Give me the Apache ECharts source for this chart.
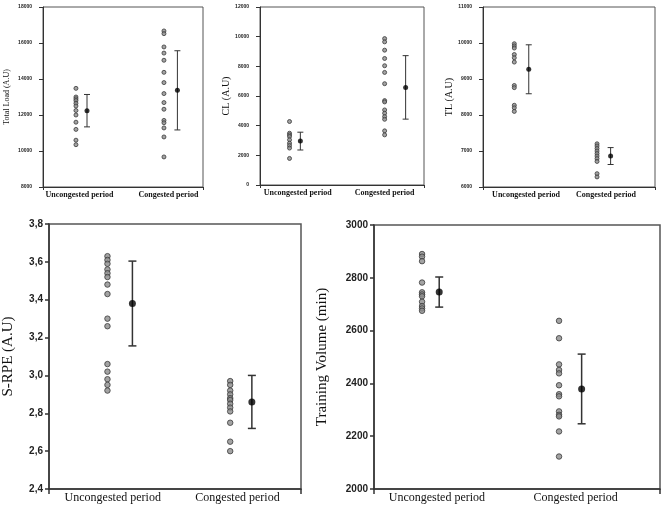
<!DOCTYPE html>
<html>
<head>
<meta charset="utf-8">
<script src="https://cdn.jsdelivr.net/npm/echarts@6/dist/echarts.min.js"></script>
<style>
  html, body { margin: 0; background: #fff; }
  #chart { width: 669px; height: 522px; }
</style>
</head>
<body>
<div id="chart"></div>
<script>
var periods = ['Uncongested period', 'Congested period']

// Total Load (A.U)
var totalLoadUncong = [13480, 13000, 12900, 12800, 12650, 12500, 12250, 12000, 11600, 11200, 10600, 10350]
var totalLoadCong = [16670, 16520, 15780, 15440, 15040, 14370, 13800, 13190, 12690, 12320, 11700, 11570, 11280, 10780, 9670]
var totalLoadMean = [12240, 13370]
var totalLoadSd = [900, 2200]

// CL (A.U)
var clUncong = [4280, 3490, 3380, 3270, 3050, 2820, 2660, 2490, 1790]
var clCong = [9870, 9650, 9090, 8530, 8040, 7590, 6830, 5690, 5600, 5060, 4840, 4610, 4430, 3650, 3380]
var clMean = [2960, 6580]
var clSd = [600, 2140]

// TL (A.U)
var tlUncong = [9980, 9920, 9860, 9680, 9590, 9470, 8820, 8760, 8270, 8200, 8100]
var tlCong = [7200, 7140, 7070, 7000, 6930, 6860, 6790, 6710, 6370, 6280]
var tlMean = [9270, 6860]
var tlSd = [680, 235]

// S-RPE (A.U)
var srpeUncong = [3.63, 3.61, 3.59, 3.56, 3.54, 3.52, 3.48, 3.43, 3.30, 3.26, 3.06, 3.02, 2.98, 2.95, 2.92]
var srpeCong = [2.97, 2.95, 2.92, 2.90, 2.88, 2.87, 2.85, 2.83, 2.81, 2.75, 2.65, 2.60]
var srpeMean = [3.38, 2.86]
var srpeSd = [0.224, 0.14]

// Training Volume (min)
var tvUncong = [2890, 2880, 2863, 2782, 2745, 2737, 2730, 2709, 2693, 2684, 2675]
var tvCong = [2637, 2571, 2472, 2451, 2438, 2393, 2359, 2351, 2294, 2281, 2275, 2218, 2123]
var tvMean = [2746, 2379]
var tvSd = [57, 132]

var serif = 'Liberation Serif'
var sans = 'Liberation Sans'

// layout of each panel (x positions are fractions of the plot width)
var panels = [
  { name: 'Total Load (A.U)', groups: [totalLoadUncong, totalLoadCong], mean: totalLoadMean, sd: totalLoadSd,
    min: 8000, max: 18000, interval: 2000,
    grid: { left: 43, top: 7, width: 160, height: 180 },
    ptX: [0.206, 0.756], meanX: [0.275, 0.84], labX: [0.228, 0.784],
    small: true, nameSize: 8, nameGap: 32 },
  { name: 'CL (A.U)', groups: [clUncong, clCong], mean: clMean, sd: clSd,
    min: 0, max: 12000, interval: 2000,
    grid: { left: 260, top: 7, width: 164, height: 178 },
    ptX: [0.18, 0.76], meanX: [0.246, 0.888], labX: [0.23, 0.76],
    small: true, nameSize: 10, nameGap: 29 },
  { name: 'TL (A.U)', groups: [tlUncong, tlCong], mean: tlMean, sd: tlSd,
    min: 6000, max: 11000, interval: 1000,
    grid: { left: 483, top: 7, width: 172, height: 180 },
    ptX: [0.182, 0.663], meanX: [0.266, 0.742], labX: [0.25, 0.715],
    small: true, nameSize: 10, nameGap: 29 },
  { name: 'S-RPE (A.U)', groups: [srpeUncong, srpeCong], mean: srpeMean, sd: srpeSd,
    min: 2.4, max: 3.8, interval: 0.2, comma: true,
    grid: { left: 48, top: 224, width: 253, height: 265 },
    ptX: [0.232, 0.719], meanX: [0.331, 0.805], labX: [0.253, 0.748],
    small: false, nameSize: 15, nameGap: 33 },
  { name: 'Training Volume (min)', groups: [tvUncong, tvCong], mean: tvMean, sd: tvSd,
    min: 2000, max: 3000, interval: 200,
    grid: { left: 374, top: 225, width: 286, height: 264 },
    ptX: [0.168, 0.647], meanX: [0.228, 0.726], labX: [0.22, 0.705],
    small: false, nameSize: 15, nameGap: 44 }
]

var grids = []
var xAxes = []
var yAxes = []
var series = []

panels.forEach(function(p, i) {
  var lw = p.small ? 1 : 1.5
  grids.push(Object.assign({ show: true, borderColor: '#555', borderWidth: lw, backgroundColor: '#fff' }, p.grid))

  xAxes.push({
    gridIndex: i,
    type: 'value',
    min: 0,
    max: 1,
    splitLine: { show: false },
    axisLine: { lineStyle: { color: '#333', width: lw } },
    axisTick: { show: true, customValues: [0, 1], length: p.small ? 3 : 5, lineStyle: { color: '#333', width: lw } },
    axisLabel: {
      customValues: p.labX,
      margin: p.small ? 4 : 3,
      fontFamily: serif,
      fontSize: p.small ? 8 : 12,
      color: '#111',
      fontWeight: p.small ? 'bold' : 'normal',
      formatter: function(v) {
        return Math.abs(v - p.labX[0]) < 1e-6 ? periods[0] : periods[1]
      }
    }
  })

  yAxes.push({
    gridIndex: i,
    type: 'value',
    min: p.min,
    max: p.max,
    interval: p.interval,
    name: p.name,
    nameLocation: 'middle',
    nameGap: p.nameGap,
    nameTextStyle: { fontFamily: serif, fontSize: p.nameSize, color: '#111' },
    splitLine: { show: false },
    axisLine: { show: true, lineStyle: { color: '#333', width: lw } },
    axisTick: { show: true, length: p.small ? 4 : 4, lineStyle: { color: '#333', width: lw } },
    axisLabel: {
      margin: p.small ? 11 : 6,
      fontFamily: sans,
      fontSize: p.small ? 5 : 10,
      fontWeight: 'bold',
      color: '#222',
      formatter: function(v) {
        return p.comma ? v.toFixed(1).replace('.', ',') : String(Math.round(v))
      }
    }
  })

  p.groups.forEach(function(vals, g) {
    series.push({
      type: 'scatter',
      xAxisIndex: i,
      yAxisIndex: i,
      symbol: 'circle',
      symbolSize: p.small ? 4 : 5.5,
      itemStyle: { color: '#8c8c8c', borderColor: '#3a3a3a', borderWidth: 1 },
      data: vals.map(function(v) { return [p.ptX[g], v] }),
      z: 3
    })
  })

  var cap = p.small ? 3 : 4
  series.push({
    type: 'custom',
    xAxisIndex: i,
    yAxisIndex: i,
    encode: { x: 0, y: [1, 2] },
    data: p.mean.map(function(m, g) { return [p.meanX[g], m - p.sd[g], m + p.sd[g]] }),
    renderItem: function(params, api) {
      var x = api.value(0)
      var lo = api.coord([x, api.value(1)])
      var hi = api.coord([x, api.value(2)])
      var st = { stroke: '#333', lineWidth: lw }
      return {
        type: 'group',
        children: [
          { type: 'line', shape: { x1: lo[0], y1: lo[1], x2: hi[0], y2: hi[1] }, style: st },
          { type: 'line', shape: { x1: lo[0] - cap, y1: lo[1], x2: lo[0] + cap, y2: lo[1] }, style: st },
          { type: 'line', shape: { x1: hi[0] - cap, y1: hi[1], x2: hi[0] + cap, y2: hi[1] }, style: st }
        ]
      }
    },
    z: 2
  })

  series.push({
    type: 'scatter',
    xAxisIndex: i,
    yAxisIndex: i,
    symbol: 'circle',
    symbolSize: p.small ? 5 : 7,
    itemStyle: { color: '#000' },
    data: p.mean.map(function(m, g) { return [p.meanX[g], m] }),
    z: 4
  })
})

var myChart = echarts.init(document.getElementById('chart'))
myChart.setOption({
  animation: false,
  backgroundColor: '#fff',
  grid: grids,
  xAxis: xAxes,
  yAxis: yAxes,
  series: series
})
</script>
</body>
</html>
